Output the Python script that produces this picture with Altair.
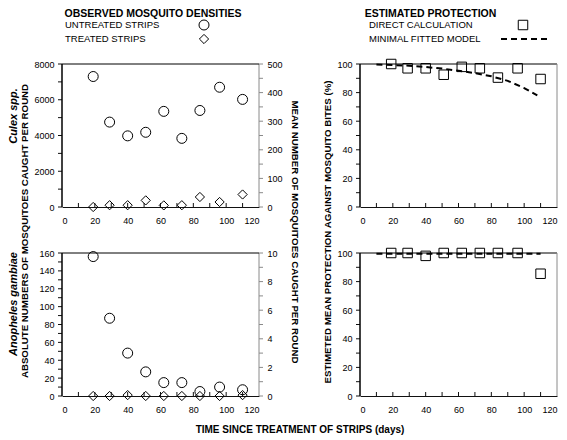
import altair as alt
import pandas as pd

# ---------------- data ----------------
days = [19, 29, 40, 51, 62, 73, 84, 96, 110]
culex_untreated = [7300, 4750, 3980, 4180, 5350, 3840, 5400, 6700, 6020]
culex_treated = [0, 100, 100, 370, 90, 100, 560, 280, 700]
anoph_untreated = [156, 87, 48, 27, 15, 15, 5, 10, 7]
anoph_treated = [0, 0, 1, 0, 0, 0, 0, 0, 1]
prot_culex = [100, 97, 97, 92.5, 98, 97, 90.5, 97, 89.5]
prot_anoph = [100, 100, 98, 100, 100, 100, 100, 100, 85.5]
model_culex_days = [10, 20, 30, 40, 50, 60, 70, 80, 90, 100, 108]
model_culex = [99.6, 99.3, 98.8, 97.9, 96.8, 95.3, 93.6, 91.4, 88.2, 83.2, 78]
model_anoph_days = [10, 110]
model_anoph = [99.5, 99.5]
x_label_values = [0, 20, 40, 60, 80, 100, 120]
x_tick_values = [10, 20, 30, 40, 50, 60, 70, 80, 90, 100, 110]

FONT = "Liberation Sans"
W, H = 197, 143
DARK = "#111111"
GRAY = "#8a8a8a"

one = pd.DataFrame({"a": [0]})
df_culex = pd.DataFrame({"day": days, "untreated": culex_untreated, "treated": culex_treated,
                         "prot": prot_culex})
df_anoph = pd.DataFrame({"day": days, "untreated": anoph_untreated, "treated": anoph_treated,
                         "prot": prot_anoph})
df_mc = pd.DataFrame({"day": model_culex_days, "prot": model_culex})
df_ma = pd.DataFrame({"day": model_anoph_days, "prot": model_anoph})
df_xt = pd.DataFrame({"day": x_tick_values})


def x_enc():
    return alt.X("day:Q", scale=alt.Scale(domain=[0, 120], nice=False, zero=False),
                 axis=alt.Axis(values=x_label_values, ticks=False, tickSize=0, labelPadding=9,
                               domainColor=DARK, title=None, grid=False, format="d"),
                 title=None)


def y_axis(step, major, top, orient="left"):
    vals = list(range(0, top + 1, major))
    return alt.Axis(values=vals, orient=orient, ticks=False, domain=False, tickSize=0,
                    labelPadding=8, title=None, grid=False, format="d")


def y_enc(field, top, step, major, orient="left"):
    return alt.Y(f"{field}:Q", scale=alt.Scale(domain=[0, top], nice=False),
                 axis=y_axis(step, major, top, orient), title=None)


def pts(df, field, shape, size, top, step, major):
    return alt.Chart(df).mark_point(shape=shape, size=size, filled=False, color="black",
                                    strokeWidth=1, opacity=1).encode(
        x=x_enc(), y=y_enc(field, top, step, major))


def yticks(field, top, step, major, side="left", color=DARK):
    d = pd.DataFrame({field: list(range(0, top + 1, step))})
    if side == "left":
        xa, xb = -4, 0
    else:
        xa, xb = W, W + 4
    return alt.Chart(d).mark_rule(color=color, strokeWidth=1).encode(
        y=y_enc(field, top, step, major, orient=side), x=alt.value(xa), x2=alt.value(xb))


def right_axis(top, step, major):
    return alt.layer(
        yticks("mean", top, step, major, side="right", color=GRAY),
        alt.Chart(one).mark_rule(color=GRAY, strokeWidth=1).encode(
            x=alt.value(W), y=alt.value(0), y2=alt.value(H)),
    )


def xticks():
    return alt.Chart(df_xt).mark_rule(color=DARK, strokeWidth=1).encode(
        x=x_enc(), y=alt.value(H), y2=alt.value(H - 4))


def top_border():
    return alt.Chart(one).mark_rule(color="black", strokeWidth=1).encode(
        x=alt.value(0), x2=alt.value(W), y=alt.value(0))


def left_border():
    return alt.Chart(one).mark_rule(color="black", strokeWidth=1.5).encode(
        x=alt.value(0), y=alt.value(0), y2=alt.value(H))


def right_border():
    return alt.Chart(one).mark_rule(color=GRAY, strokeWidth=1).encode(
        x=alt.value(W), y=alt.value(0), y2=alt.value(H))


def txt(s, x, y, size=9.5, weight="normal", style="normal", angle=0, align="left"):
    return alt.Chart(one).mark_text(font=FONT, fontSize=size, fontWeight=weight,
                                    fontStyle=style, angle=angle, align=align,
                                    baseline="middle", color="black").encode(
        x=alt.value(x), y=alt.value(y), text=alt.value(s))


def sym(shape, size, x, y):
    return alt.Chart(one).mark_point(shape=shape, size=size, filled=False, color="black",
                                     strokeWidth=1, opacity=1).encode(
        x=alt.value(x), y=alt.value(y))


anchor = alt.Chart(one).mark_rect(opacity=0).encode(
    x=alt.value(-54), x2=alt.value(-53), y=alt.value(-56), y2=alt.value(-55))

# ---------------- top-left: Culex densities ----------------
TL = alt.layer(
    alt.layer(pts(df_culex, "untreated", "circle", 100, 8000, 1000, 2000),
              pts(df_culex, "treated", "diamond", 85, 8000, 1000, 2000),
              yticks("untreated", 8000, 1000, 2000)),
    right_axis(500, 50, 100),
    xticks(), top_border(), left_border(), anchor,
    txt("Culex spp.", -48, 52, size=11, weight="bold", style="italic", angle=270, align="center"),
    txt("ABSOLUTE NUMBERS OF MOSQUITOES CAUGHT PER ROUND", -37, 167, size=9.7,
        weight="bold", angle=270, align="center"),
    txt("MEAN NUMBER OF MOSQUITOES CAUGHT PER ROUND", 233, 168, size=9.7,
        weight="bold", angle=90, align="center"),
    txt("OBSERVED MOSQUITO DENSITIES", 91, -50, size=10.5, weight="bold", align="center"),
    txt("UNTREATED STRIPS", 3, -39),
    txt("TREATED STRIPS", 3, -25),
    sym("circle", 100, 142, -39),
    sym("diamond", 85, 142, -25),
).resolve_scale(y="independent").properties(width=W, height=H)

# ---------------- top-right: Culex protection ----------------
TR = alt.layer(
    alt.Chart(df_culex).mark_point(shape="square", size=90, filled=False, color="black",
                                   strokeWidth=1, opacity=1).encode(
        x=x_enc(), y=y_enc("prot", 100, 10, 20)),
    alt.Chart(df_mc).mark_line(color="black", strokeWidth=2, strokeDash=[6, 4]).encode(
        x=x_enc(), y=y_enc("prot", 100, 10, 20)),
    yticks("prot", 100, 10, 20),
    xticks(), top_border(), left_border(), right_border(),
    txt("ESTIMATED PROTECTION", 70.5, -50, size=10.5, weight="bold", align="center"),
    txt("DIRECT CALCULATION", 9, -39),
    txt("MINIMAL FITTED MODEL", 9, -25),
    sym("square", 90, 163, -39),
    alt.Chart(one).mark_rule(color="black", strokeWidth=2, strokeDash=[6, 4]).encode(
        x=alt.value(141), x2=alt.value(187), y=alt.value(-25)),
    txt("ESTIMETED MEAN PROTECTION AGAINST MOSQUITO BITES (%)", -32, 168, size=9.7,
        weight="bold", angle=270, align="center"),
).properties(width=W, height=H)

# ---------------- bottom-left: Anopheles densities ----------------
BL = alt.layer(
    alt.layer(pts(df_anoph, "untreated", "circle", 100, 160, 10, 20),
              pts(df_anoph, "treated", "diamond", 85, 160, 10, 20),
              yticks("untreated", 160, 10, 20)),
    right_axis(10, 1, 2),
    xticks(), top_border(), left_border(),
    txt("Anopheles gambiae", -48, 51, size=11, weight="bold", style="italic", angle=270,
        align="center"),
).resolve_scale(y="independent").properties(width=W, height=H)

# ---------------- bottom-right: Anopheles protection ----------------
BR = alt.layer(
    alt.Chart(df_anoph).mark_point(shape="square", size=90, filled=False, color="black",
                                   strokeWidth=1, opacity=1).encode(
        x=x_enc(), y=y_enc("prot", 100, 10, 20)),
    alt.Chart(df_ma).mark_line(color="black", strokeWidth=2, strokeDash=[6, 4]).encode(
        x=x_enc(), y=y_enc("prot", 100, 10, 20)),
    yticks("prot", 100, 10, 20),
    xticks(), top_border(), left_border(), right_border(),
    txt("TIME SINCE TREATMENT OF STRIPS (days)", -60, 177, size=10, weight="bold",
        align="center"),
).properties(width=W, height=H)

chart = alt.concat(TL, TR, BL, BR, columns=2, spacing={"row": 46, "column": 101},
                   bounds="flush", padding=0).configure_view(stroke=None).configure_axis(
    labelFont=FONT, labelFontSize=9, labelColor="black").configure_text(font=FONT)

chart.save("out.html", embed_options={"renderer": "svg", "actions": False})
